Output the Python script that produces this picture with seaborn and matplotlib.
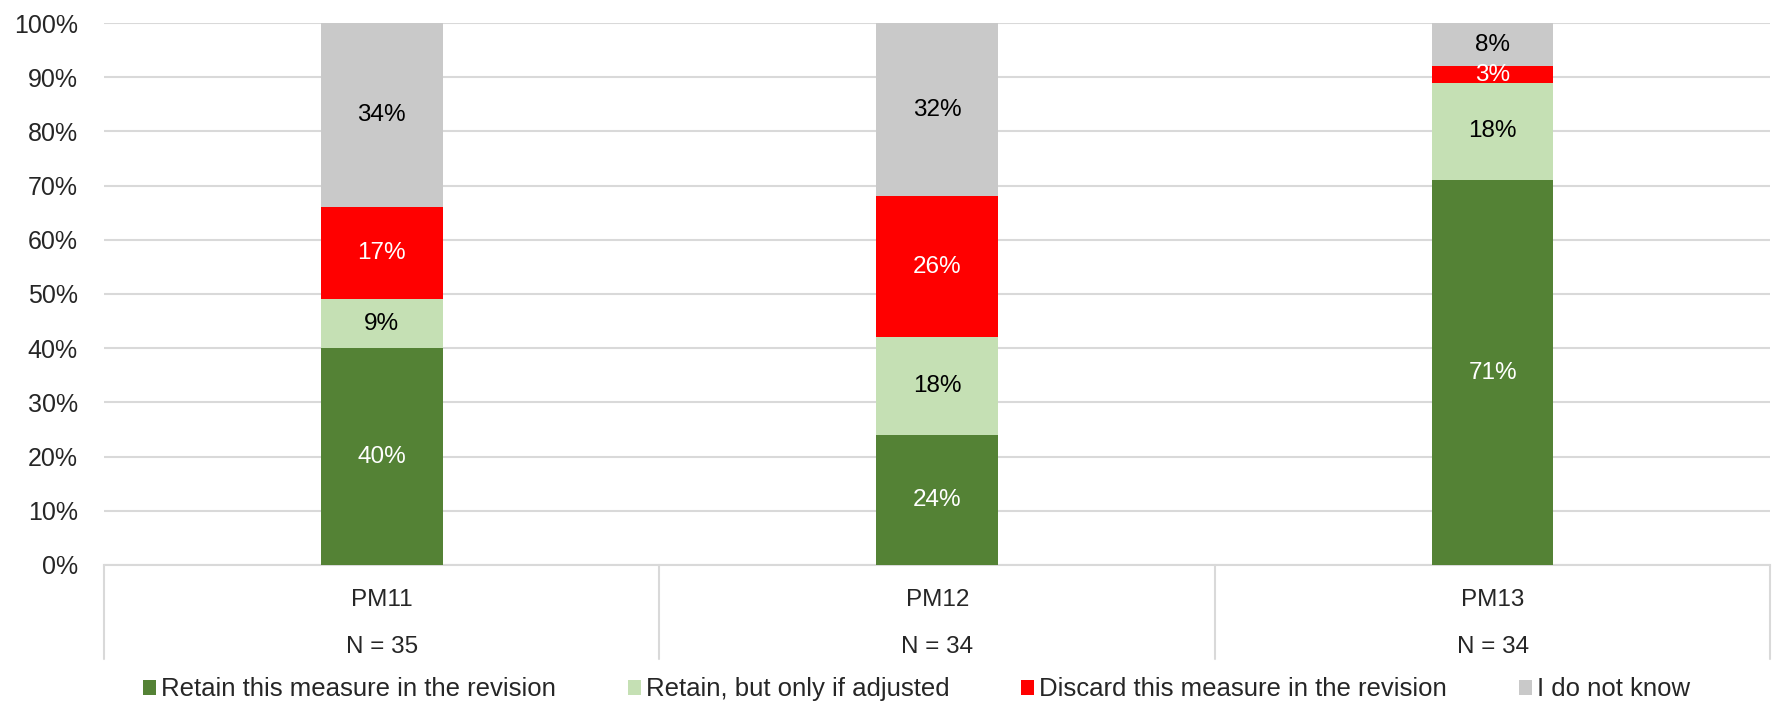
import pandas as pd
import numpy as np
import matplotlib
matplotlib.use('Agg')
import matplotlib.pyplot as plt
import matplotlib.transforms as mtransforms
from matplotlib.patches import Patch
import seaborn as sns

categories = ['PM11', 'PM12', 'PM13']
n_labels = ['N = 35', 'N = 34', 'N = 34']
series = ['Retain this measure in the revision', 'Retain, but only if adjusted',
          'Discard this measure in the revision', 'I do not know']
retain = [40, 24, 71]
retain_adjusted = [9, 18, 18]
discard = [17, 26, 3]
dont_know = [34, 32, 8]
colors = ['#548235', '#C5E0B4', '#FF0000', '#C9C9C9']
label_colors = ['white', 'black', 'white', 'black']

sns.set_style('white')
plt.rcParams['font.family'] = ['Liberation Sans', 'DejaVu Sans']
fs = 17.5

values = [retain, retain_adjusted, discard, dont_know]
cum = np.cumsum(np.array(values), axis=0)

fig = plt.figure(figsize=(17.73, 7.02), dpi=100)
ax = fig.add_axes([0.0587, 0.1952, 0.9398, 0.772])

# stacked bars: draw cumulative totals from the top layer down
for i in range(3, -1, -1):
    df = pd.DataFrame({'cat': categories, 'val': cum[i]})
    sns.barplot(data=df, x='cat', y='val', color=colors[i], width=0.219,
                saturation=1, linewidth=0, edgecolor='none', ax=ax, zorder=3)

# data labels
for i in range(4):
    for j in range(3):
        mid = cum[i][j] - values[i][j] / 2
        ax.text(j, mid, f'{values[i][j]}%', ha='center', va='center',
                color=label_colors[i], fontsize=fs, zorder=4)

ax.set_xlim(-0.5, 2.5)
ax.set_ylim(0, 100)
ax.set_yticks(range(0, 101, 10))
ax.set_yticklabels([f'{v}%' for v in range(0, 101, 10)], fontsize=fs + 0.5)
ax.yaxis.grid(True, color='#D9D9D9', linewidth=1.5, zorder=0)
ax.set_axisbelow(True)
ax.tick_params(axis='y', length=0, pad=19)
ax.set_xticks([])
ax.set_xlabel('')
ax.set_ylabel('')
for s in ['left', 'right', 'top']:
    ax.spines[s].set_visible(False)
ax.spines['bottom'].set_color('#D9D9D9')
ax.spines['bottom'].set_linewidth(1.5)

# two-level category axis with separators
trans = mtransforms.blended_transform_factory(ax.transData, ax.transAxes)
for j, (cat, lab) in enumerate(zip(categories, n_labels)):
    ax.text(j, -0.064, cat, ha='center', va='center', fontsize=fs, transform=trans)
    ax.text(j, -0.152, lab, ha='center', va='center', fontsize=fs, transform=trans)
for x in [-0.5, 0.5, 1.5, 2.5]:
    ax.plot([x, x], [0, -0.173], color='#D9D9D9', linewidth=1.5,
            transform=trans, clip_on=False)

handles = [Patch(facecolor=c, edgecolor='none') for c in colors]
fig.legend(handles, series, loc='center', bbox_to_anchor=(0.517, 0.018), ncol=4,
           frameon=False, fontsize=fs + 1, handlelength=0.5, handleheight=0.5,
           handletextpad=0.2, columnspacing=2.8)

fig.savefig('out.png', dpi=100)
